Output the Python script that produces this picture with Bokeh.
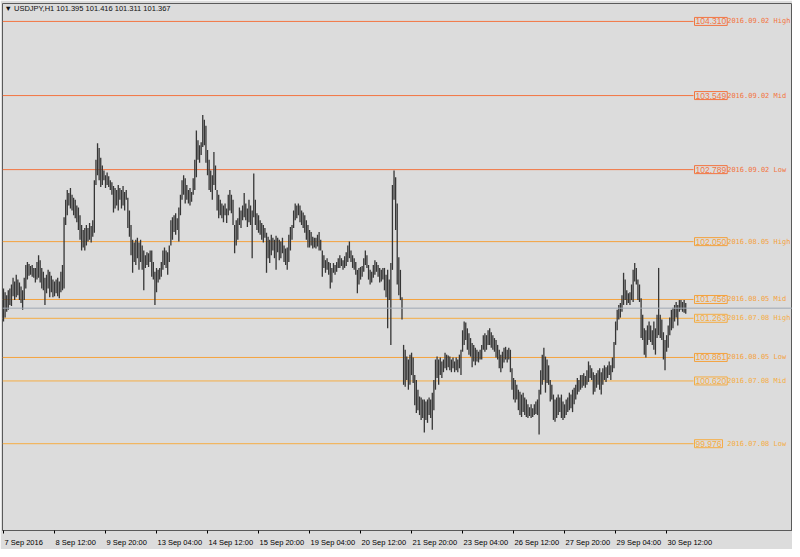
from bokeh.plotting import figure
from bokeh.models import Range1d, FixedTicker, Label, Span
from bokeh.embed import file_html
from bokeh.resources import INLINE

# ---------------- data ----------------
symbol = "USDJPY,H1"
last_ohlc = [101.395, 101.416, 101.311, 101.367]
bid_price = 101.367

highs = [
    101.57, 101.53, 101.50, 101.55, 101.57, 101.61, 101.68, 101.64, 101.71, 101.66,
    101.63, 101.59, 101.55, 101.68, 101.81, 101.84, 101.82, 101.80, 101.81, 101.78,
    101.78, 101.84, 101.91, 101.86, 101.78, 101.74, 101.68, 101.71, 101.76, 101.74,
    101.70, 101.66, 101.64, 101.66, 101.68, 101.64, 101.74, 101.81, 102.30, 102.48,
    102.58, 102.55, 102.60, 102.53, 102.50, 102.48, 102.42, 102.40, 102.32, 102.22,
    102.17, 102.19, 102.22, 102.19, 102.24, 102.21, 102.27, 102.68, 102.89, 103.06,
    103.01, 102.91, 102.83, 102.78, 102.73, 102.76, 102.72, 102.68, 102.66, 102.62,
    102.60, 102.58, 102.63, 102.60, 102.58, 102.62, 102.56, 102.58, 102.50, 102.37,
    102.22, 102.07, 102.04, 102.07, 102.09, 102.04, 102.07, 102.01, 101.96, 101.91,
    101.94, 101.93, 101.96, 101.96, 101.84, 101.74, 101.78, 101.76, 101.78, 101.84,
    101.96, 101.99, 101.96, 101.94, 102.01, 102.27, 102.30, 102.32, 102.34, 102.29,
    102.40, 102.53, 102.68, 102.73, 102.70, 102.63, 102.58, 102.60, 102.56, 102.70,
    102.89, 103.19, 103.09, 103.04, 103.07, 103.35, 103.30, 103.24, 102.99, 102.89,
    102.78, 102.73, 102.97, 102.83, 102.58, 102.53, 102.48, 102.44, 102.42, 102.44,
    102.39, 102.53, 102.58, 102.53, 102.48, 102.22, 102.27, 102.29, 102.40, 102.37,
    102.42, 102.55, 102.44, 102.39, 102.48, 102.42, 102.37, 102.75, 102.48, 102.34,
    102.32, 102.27, 102.24, 102.22, 102.19, 102.14, 102.10, 102.07, 102.12, 102.09,
    102.07, 102.11, 102.09, 102.07, 102.05, 102.09, 102.01, 101.98, 101.99, 102.12,
    102.20, 102.22, 102.37, 102.44, 102.42, 102.44, 102.42, 102.37, 102.35, 102.32,
    102.27, 102.22, 102.17, 102.15, 102.10, 102.09, 102.09, 102.12, 102.15, 102.07,
    101.96, 101.91, 101.86, 101.88, 101.84, 101.83, 101.78, 101.83, 101.81, 101.84,
    101.88, 101.91, 101.88, 101.86, 101.90, 101.94, 102.01, 102.05, 101.96, 101.91,
    101.88, 101.84, 101.76, 101.78, 101.79, 101.80, 101.88, 101.96, 101.91, 101.81,
    101.76, 101.74, 101.81, 101.86, 101.84, 101.81, 101.78, 101.76, 101.78, 101.78,
    101.71, 101.76, 101.66, 101.83, 102.63, 102.78, 102.71, 102.44, 101.89, 101.76,
    101.48, 100.99, 100.94, 100.87, 100.84, 100.89, 100.91, 100.86, 100.68, 100.63,
    100.53, 100.46, 100.45, 100.43, 100.43, 100.41, 100.43, 100.45, 100.43, 100.50,
    100.63, 100.84, 100.87, 100.84, 100.86, 100.82, 100.84, 100.91, 100.89, 100.88,
    100.87, 100.84, 100.86, 100.82, 100.86, 100.84, 100.89, 100.94, 101.14, 101.23,
    101.22, 101.16, 101.11, 101.06, 101.01, 100.99, 100.96, 100.94, 100.92, 100.94,
    100.99, 101.09, 101.11, 101.09, 101.14, 101.16, 101.12, 101.09, 101.06, 101.04,
    100.99, 100.94, 100.89, 100.92, 100.96, 100.97, 100.94, 100.96, 100.94, 100.75,
    100.65, 100.63, 100.58, 100.53, 100.51, 100.48, 100.50, 100.45, 100.43, 100.38,
    100.35, 100.38, 100.34, 100.38, 100.41, 100.43, 100.53, 100.73, 100.89, 100.96,
    100.87, 100.84, 100.78, 100.63, 100.58, 100.48, 100.43, 100.45, 100.48, 100.45,
    100.48, 100.41, 100.38, 100.43, 100.45, 100.50, 100.48, 100.53, 100.55, 100.58,
    100.65, 100.63, 100.68, 100.68, 100.70, 100.67, 100.73, 100.82, 100.78, 100.75,
    100.71, 100.68, 100.70, 100.73, 100.75, 100.71, 100.75, 100.78, 100.76, 100.78,
    100.82, 100.78, 100.86, 101.02, 101.23, 101.35, 101.40, 101.42, 101.50, 101.73,
    101.66, 101.55, 101.52, 101.53, 101.61, 101.76, 101.83, 101.78, 101.66, 101.61,
    101.47, 101.30, 101.16, 101.14, 101.19, 101.23, 101.19, 101.14, 101.23, 101.16,
    101.30, 101.78, 101.30, 101.25, 101.12, 101.04, 101.09, 101.19, 101.27, 101.35,
    101.37, 101.40, 101.43, 101.40, 101.45, 101.45, 101.43, 101.45, 101.42,
]

lows = [
    101.23, 101.27, 101.33, 101.35, 101.40, 101.39, 101.49, 101.45, 101.48, 101.50,
    101.45, 101.42, 101.35, 101.45, 101.57, 101.66, 101.70, 101.71, 101.69, 101.68,
    101.63, 101.66, 101.68, 101.63, 101.57, 101.55, 101.40, 101.52, 101.57, 101.48,
    101.53, 101.48, 101.49, 101.52, 101.49, 101.47, 101.53, 101.55, 101.57, 102.22,
    102.32, 102.42, 102.39, 102.37, 102.32, 102.29, 102.25, 102.17, 102.07, 101.96,
    101.99, 101.96, 102.01, 102.05, 102.07, 102.04, 102.10, 102.14, 102.63, 102.73,
    102.68, 102.61, 102.63, 102.68, 102.60, 102.63, 102.61, 102.58, 102.53, 102.35,
    102.39, 102.42, 102.37, 102.48, 102.39, 102.42, 102.37, 102.48, 102.19, 102.10,
    101.91, 101.73, 101.84, 101.81, 101.88, 101.76, 101.84, 101.76, 101.55, 101.78,
    101.81, 101.79, 101.84, 101.69, 101.66, 101.40, 101.53, 101.63, 101.66, 101.69,
    101.76, 101.81, 101.78, 101.71, 101.84, 102.01, 102.07, 102.15, 102.12, 102.17,
    102.05, 102.32, 102.48, 102.53, 102.44, 102.48, 102.44, 102.42, 102.46, 102.53,
    102.58, 102.71, 102.89, 102.86, 102.94, 103.02, 103.04, 102.86, 102.73, 102.58,
    102.56, 102.48, 102.63, 102.58, 102.37, 102.29, 102.32, 102.29, 102.25, 102.32,
    102.24, 102.32, 102.37, 102.34, 102.22, 101.93, 102.01, 102.07, 102.22, 102.19,
    102.27, 102.30, 102.27, 102.20, 102.25, 102.22, 101.88, 102.30, 102.22, 102.17,
    102.14, 102.12, 102.07, 102.04, 102.09, 101.73, 101.88, 101.83, 101.91, 101.96,
    101.88, 101.76, 101.94, 101.86, 101.88, 101.93, 101.84, 101.81, 101.76, 101.84,
    101.96, 102.07, 102.19, 102.27, 102.29, 102.32, 102.25, 102.22, 102.19, 102.14,
    102.07, 101.99, 101.99, 102.01, 101.98, 101.99, 101.98, 102.00, 101.96, 101.96,
    101.69, 101.78, 101.73, 101.76, 101.71, 101.57, 101.63, 101.73, 101.71, 101.74,
    101.78, 101.78, 101.80, 101.76, 101.78, 101.80, 101.84, 101.88, 101.84, 101.78,
    101.76, 101.71, 101.52, 101.61, 101.66, 101.69, 101.74, 101.81, 101.78, 101.66,
    101.61, 101.63, 101.68, 101.71, 101.74, 101.69, 101.63, 101.64, 101.66, 101.55,
    101.48, 101.16, 101.45, 100.99, 101.76, 102.48, 102.17, 101.61, 101.50, 101.45,
    101.25, 100.58, 100.56, 100.63, 100.53, 100.58, 100.68, 100.60, 100.37, 100.29,
    100.32, 100.27, 100.22, 100.24, 100.09, 100.22, 100.19, 100.27, 100.24, 100.12,
    100.32, 100.53, 100.65, 100.58, 100.68, 100.65, 100.71, 100.75, 100.73, 100.76,
    100.73, 100.71, 100.75, 100.71, 100.73, 100.71, 100.75, 100.68, 100.92, 100.99,
    101.04, 100.94, 100.89, 100.87, 100.76, 100.82, 100.78, 100.82, 100.81, 100.84,
    100.84, 100.94, 100.92, 100.94, 100.99, 100.99, 100.96, 100.94, 100.92, 100.86,
    100.84, 100.75, 100.71, 100.75, 100.81, 100.84, 100.81, 100.84, 100.71, 100.53,
    100.43, 100.40, 100.43, 100.32, 100.27, 100.25, 100.30, 100.27, 100.25, 100.24,
    100.26, 100.24, 100.25, 100.27, 100.28, 100.27, 100.07, 100.48, 100.58, 100.63,
    100.50, 100.60, 100.58, 100.41, 100.43, 100.22, 100.20, 100.24, 100.27, 100.30,
    100.24, 100.22, 100.24, 100.27, 100.30, 100.32, 100.34, 100.30, 100.38, 100.43,
    100.48, 100.51, 100.53, 100.55, 100.57, 100.55, 100.58, 100.61, 100.65, 100.63,
    100.48, 100.51, 100.55, 100.58, 100.53, 100.48, 100.58, 100.63, 100.61, 100.65,
    100.68, 100.63, 100.71, 100.75, 100.99, 101.14, 101.25, 101.27, 101.33, 101.40,
    101.45, 101.40, 101.42, 101.40, 101.45, 101.43, 101.64, 101.61, 101.45, 101.43,
    101.06, 101.04, 100.89, 100.86, 100.99, 101.04, 101.02, 100.99, 100.94, 100.89,
    101.06, 101.09, 101.06, 101.04, 100.84, 100.73, 100.92, 100.96, 101.09, 101.14,
    101.16, 101.23, 101.27, 101.19, 101.33, 101.35, 101.33, 101.32, 101.31,
]

tick_bars = [0, 32, 64, 96, 128, 160, 192, 224, 256, 288, 320, 352, 384, 416]
tick_labels = ["7 Sep 2016", "8 Sep 12:00", "9 Sep 20:00", "13 Sep 04:00",
               "14 Sep 12:00", "15 Sep 20:00", "19 Sep 04:00", "20 Sep 12:00",
               "21 Sep 20:00", "23 Sep 04:00", "26 Sep 12:00", "27 Sep 20:00",
               "29 Sep 04:00", "30 Sep 12:00"]

level_prices = [104.310, 103.549, 102.789, 102.050, 101.456, 100.861,
                101.263, 100.620, 99.976]
level_texts = ["104.310", "103.549", "102.789", "102.050", "101.456", "100.861",
               "101.263", "100.620", "99.976"]
level_names = ["2016.09.02 High", "2016.09.02 Mid", "2016.09.02 Low",
               "2016.08.05 High", "2016.08.05 Mid", "2016.08.05 Low",
               "2016.07.08 High", "2016.07.08 Mid", "2016.07.08 Low"]

# ---------------- styles / layout ----------------
level_colors = ["#F37542", "#F37542", "#F37542",
                "#F4A23E", "#F4A23E", "#F4A23E",
                "#F5AD44", "#F5AD44", "#F5AD44"]
BG = "#DCDCDC"
BAR_COLOR = "#363636"
W, H = 792, 549
BORDER_L, BORDER_T, BORDER_B = 2, 3, 18
X0, X1 = -0.627, 494.98
Y0, Y1 = 99.085, 104.494
px_per_bar = (W - BORDER_L) / (X1 - X0)

n = len(highs)
idx = list(range(n))

p = figure(width=W, height=H, output_backend="svg", toolbar_location=None,
           x_range=Range1d(X0, X1), y_range=Range1d(Y0, Y1),
           y_axis_location=None,
           min_border_left=BORDER_L, min_border_right=0,
           min_border_top=BORDER_T, min_border_bottom=BORDER_B,
           background_fill_color=BG, border_fill_color=BG,
           outline_line_color="#5a5a5a", outline_line_width=1)
p.grid.visible = False

# level lines
line_end = n + 3.9
p.segment(x0=[X0] * len(level_prices), x1=[line_end] * len(level_prices),
          y0=level_prices, y1=level_prices, line_color=level_colors, line_width=1)

# bid line
p.add_layout(Span(location=bid_price, dimension="width", line_color="#9EA8B4", line_width=1))

# bars
p.segment(x0=idx, x1=idx, y0=lows, y1=highs, line_color=BAR_COLOR, line_width=1.3)

# level labels
for pr, t, name, c in zip(level_prices, level_texts, level_names, level_colors):
    p.add_layout(Label(x=n + 4.5, y=pr, text=t, text_font="Liberation Sans",
                       text_font_size="8.5px", text_color=c, text_align="left",
                       text_baseline="middle", border_line_color=c, border_line_width=1,
                       padding=1))
    p.add_layout(Label(x=n + 25.0, y=pr, text=name, text_font="DejaVu Sans Mono",
                       text_font_size="7px", text_color=c, text_align="left",
                       text_baseline="middle"))

# title
title_text = "\u25BC " + symbol + "  " + " ".join(f"{v:.3f}" for v in last_ohlc)
p.add_layout(Label(x=0.6, y=104.443, text=title_text, text_font="Liberation Sans",
                   text_font_size="7.5px", text_color="#111111", text_align="left",
                   text_baseline="middle"))

# x axis: labels start at each tick mark -> label centres shifted right by half width;
# the tick marks themselves are drawn as minor ticks at the bar positions
char_w = {d: 0.556 for d in "0123456789"}
char_w.update({" ": 0.278, ":": 0.278, "S": 0.667, "e": 0.556, "p": 0.556})
LABEL_PX = 7.5
label_centres = []
for b, lab in zip(tick_bars, tick_labels):
    w = sum(char_w.get(ch, 0.556) for ch in lab) * LABEL_PX
    label_centres.append(b + (w / 2 + 1) / px_per_bar)

ax = p.xaxis[0]
ax.ticker = FixedTicker(ticks=label_centres, minor_ticks=tick_bars)
ax.major_label_overrides = {c: l for c, l in zip(label_centres, tick_labels)}
ax.major_label_text_font = "Liberation Sans"
ax.major_label_text_font_size = "7.5px"
ax.major_label_text_color = "#000000"
ax.major_label_standoff = 4
ax.major_tick_in = 0
ax.major_tick_out = 0
ax.major_tick_line_color = None
ax.minor_tick_in = 0
ax.minor_tick_out = 3
ax.minor_tick_line_color = "#000000"
ax.axis_line_color = "#5a5a5a"

open("out.html", "w").write(file_html(p, INLINE))
